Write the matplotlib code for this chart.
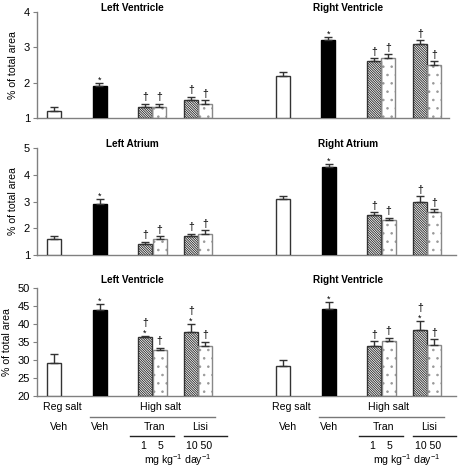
import matplotlib
matplotlib.use("Agg")
import matplotlib.pyplot as plt
from matplotlib.transforms import blended_transform_factory
from matplotlib.lines import Line2D

plt.rcParams['font.family'] = ['Liberation Sans', 'DejaVu Sans']
plt.rcParams['mathtext.fontset'] = 'custom'
plt.rcParams['mathtext.rm'] = 'Liberation Sans'
plt.rcParams['mathtext.default'] = 'regular'
plt.rcParams['hatch.linewidth'] = 0.6

# ---------------- data ----------------
groups = ["Reg salt Veh", "High salt Veh", "Tran 1", "Tran 5", "Lisi 10", "Lisi 50"]

lv1_mean = [1.2, 1.9, 1.3, 1.3, 1.5, 1.4]
lv1_err = [0.1, 0.1, 0.1, 0.1, 0.1, 0.1]
lv1_mark = ["", "*", "†", "†", "†", "†"]
rv1_mean = [2.2, 3.2, 2.6, 2.7, 3.1, 2.5]
rv1_err = [0.1, 0.1, 0.1, 0.1, 0.1, 0.1]
rv1_mark = ["", "*", "†", "†", "†", "†"]

la_mean = [1.6, 2.9, 1.4, 1.6, 1.7, 1.8]
la_err = [0.1, 0.2, 0.1, 0.1, 0.1, 0.12]
la_mark = ["", "*", "†", "†", "†", "†"]
ra_mean = [3.1, 4.3, 2.5, 2.3, 3.0, 2.6]
ra_err = [0.1, 0.1, 0.1, 0.1, 0.2, 0.12]
ra_mark = ["", "*", "†", "†", "†", "†"]

lv3_mean = [29.2, 43.8, 36.3, 32.8, 37.8, 33.8]
lv3_err = [2.4, 1.8, 0.4, 0.6, 2.2, 1.3]
lv3_mark = ["", "*", "*†", "†", "*†", "†"]
rv3_mean = [28.2, 44.2, 34.0, 35.2, 38.3, 34.3]
rv3_err = [1.8, 2.0, 1.3, 1.0, 2.6, 1.4]
rv3_mark = ["", "*", "†", "†", "*†", "†"]

row_titles = [("Left Ventricle", "Right Ventricle"),
              ("Left Atrium", "Right Atrium"),
              ("Left Ventricle", "Right Ventricle")]
row_ylim = [(1, 4), (1, 5), (20, 50)]
row_yticks = [[1, 2, 3, 4], [1, 2, 3, 4, 5], [20, 25, 30, 35, 40, 45, 50]]
ylabel = "% of total area"

# ---------------- layout (pixels) ----------------
W, H = 459, 468
fig = plt.figure(figsize=(W / 100, H / 100), dpi=100)

boxes = [(37, 12, 449, 118), (37, 148, 456, 255), (37, 288, 456, 396)]
panel_start = [54, 283]
bar_off = [0, 45.5, 91, 105.5, 137, 151]
bar_w = 14

styles = [
    dict(face="white", edge="#333333", hatch=None),
    dict(face="black", edge="black", hatch=None),
    dict(face="white", edge="#333333", hatch="\\" * 14, hatchcol="#222222"),
    dict(face="white", edge="#888888", hatch="..", hatchcol="#999999"),
    dict(face="white", edge="#333333", hatch="\\" * 14, hatchcol="#222222"),
    dict(face="white", edge="#888888", hatch="..", hatchcol="#999999"),
]

spine_col = "#808080"
FS = 7.6

data_rows = [((lv1_mean, lv1_err, lv1_mark), (rv1_mean, rv1_err, rv1_mark)),
             ((la_mean, la_err, la_mark), (ra_mean, ra_err, ra_mark)),
             ((lv3_mean, lv3_err, lv3_mark), (rv3_mean, rv3_err, rv3_mark))]

axes = []
for r, (l, t, rr, b) in enumerate(boxes):
    ax = fig.add_axes([l / W, 1 - b / H, (rr - l) / W, (b - t) / H])
    axes.append(ax)
    ax.set_xlim(l, rr)
    ax.set_ylim(*row_ylim[r])
    ax.set_yticks(row_yticks[r])
    ax.set_xticks([])
    for s in ["top", "right"]:
        ax.spines[s].set_visible(False)
    for s in ["left", "bottom"]:
        ax.spines[s].set_color(spine_col)
        ax.spines[s].set_linewidth(1.0)
    ax.tick_params(axis="y", direction="out", length=3, width=0.8,
                   color=spine_col, labelsize=FS + 0.4, pad=2)
    ax.set_ylabel(ylabel, fontsize=FS, labelpad=4)
    ax.patch.set_alpha(0)

    for p in range(2):
        mean, err, marks = data_rows[r][p]
        xs = [panel_start[p] + o for o in bar_off]
        base = row_ylim[r][0]
        for i, (x, m, e) in enumerate(zip(xs, mean, err)):
            st = styles[i]
            if st["hatch"]:
                ax.bar(x, m - base, bottom=base, width=bar_w, color="white",
                       edgecolor=st["hatchcol"], hatch=st["hatch"], linewidth=0, zorder=2)
                ax.bar(x, m - base, bottom=base, width=bar_w, fill=False,
                       edgecolor=st["edge"], linewidth=1.0, zorder=3)
            else:
                ax.bar(x, m - base, bottom=base, width=bar_w, color=st["face"],
                       edgecolor=st["edge"], linewidth=1.0, zorder=3)
            ax.errorbar(x, m, yerr=[[0], [e]], fmt="none", ecolor="#333333",
                        elinewidth=1.0, capsize=3, capthick=1.0, zorder=4)
            off = 1.0
            for ch in marks[i]:
                if ch == "*":
                    ax.annotate("*", (x, m + e), xytext=(0, off - 2.5),
                                textcoords="offset points", ha="center", va="bottom",
                                fontsize=6.5, zorder=5)
                    off += 4.5
                else:
                    ax.annotate("†", (x, m + e), xytext=(0, off),
                                textcoords="offset points", ha="center", va="bottom",
                                fontsize=7.5, zorder=5)
                    off += 9

    ty = [8, 144, 280][r]
    tf = blended_transform_factory(ax.transData, fig.transFigure)
    ax.text(132, 1 - ty / H, row_titles[r][0], transform=tf, ha="center",
            va="center", fontsize=7.2, fontweight="bold")
    ax.text(348, 1 - ty / H, row_titles[r][1], transform=tf, ha="center",
            va="center", fontsize=7.2, fontweight="bold")

# ---------------- bottom group labels ----------------
ax = axes[2]
tf = blended_transform_factory(ax.transData, fig.transFigure)


def fy(px):
    return 1 - px / H


def txt(x, y, s, **kw):
    ax.text(x, fy(y), s, transform=tf, ha="center", va="center",
            fontsize=FS, clip_on=False, **kw)


def hline(x0, x1, y, col="#444444"):
    ax.add_line(Line2D([x0, x1], [fy(y), fy(y)], transform=tf, color=col,
                       linewidth=1.0, clip_on=False))


for p in range(2):
    x0 = panel_start[p]
    txt(x0 + 8, 407, "Reg salt")
    txt(x0 + 106, 407, "High salt")
    hline(x0 + 36, x0 + 161, 417, col="#777777")
    txt(x0 + 5, 427, "Veh")
    txt(x0 + 46, 427, "Veh")
    txt(x0 + 100, 427, "Tran")
    hline(x0 + 76, x0 + 120, 436, col="#222222")
    txt(x0 + 146, 427, "Lisi")
    hline(x0 + 130, x0 + 173, 436, col="#222222")
    txt(x0 + 89, 446, "1")
    txt(x0 + 107, 446, "5")
    txt(x0 + 145, 446, "10 50")
    txt(x0 + 124, 460, "mg kg$^{-1}$ day$^{-1}$")

fig.savefig("out.png", dpi=100)
